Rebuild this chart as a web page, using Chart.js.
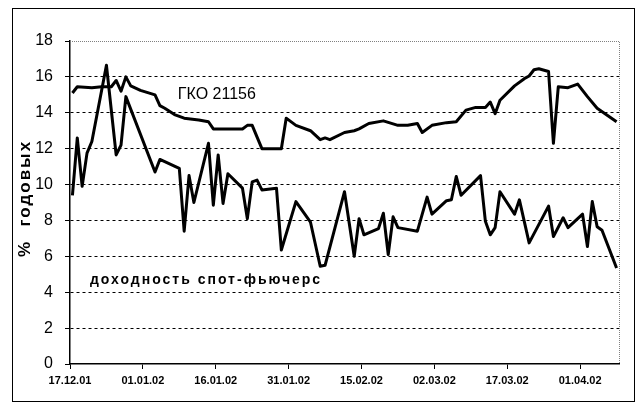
<!DOCTYPE html>
<html>
<head>
<meta charset="utf-8">
<script src="https://cdn.jsdelivr.net/npm/chart.js@4"></script>
<style>
	html, body { margin: 0; padding: 0; background: #fff; }
	#chart { display: block; }
</style>
</head>
<body>
<canvas id="chart" width="636" height="408"></canvas>
<script>
( function () {
	'use strict';

	// ── Data (days counted from 17.12.01) ────────────────────────────────

	const X_TICK_DAYS = [ 0, 15, 30, 45, 60, 75, 90, 105 ];
	const X_TICK_LABELS = [ '17.12.01', '01.01.02', '16.01.02', '31.01.02', '15.02.02', '02.03.02', '17.03.02', '01.04.02' ];

	const GKO_DAYS = [
		0, 1, 4, 6, 8, 9, 10, 11, 12, 14, 17, 18, 19, 21, 23, 26, 28, 29, 35, 36, 37, 39,
		43, 44, 46, 49, 51, 52, 53, 56, 58, 59, 61, 64, 67, 69, 71, 72, 74, 77, 79, 81,
		83, 85, 86, 87, 88, 91, 93, 94, 95, 96, 98, 99, 100, 102, 104, 106, 108, 112,
	];
	const GKO_VALUES = [
		15.1, 15.45, 15.4, 15.45, 15.45, 15.8, 15.2, 16.0, 15.5, 15.25, 15.0, 14.4, 14.25, 13.9, 13.7, 13.6, 13.5, 13.1, 13.1, 13.3, 13.3, 12.0,
		12.0, 13.7, 13.3, 13.0, 12.5, 12.6, 12.5, 12.9, 13.0, 13.1, 13.4, 13.55, 13.3, 13.3, 13.4, 12.9, 13.3, 13.45, 13.5, 14.15,
		14.3, 14.3, 14.6, 13.95, 14.7, 15.5, 15.9, 16.05, 16.4, 16.45, 16.3, 12.3, 15.45, 15.4, 15.6, 14.9, 14.25, 13.5,
	];

	const SPOT_DAYS = [
		0, 1, 2, 3, 4, 7, 9, 10, 11, 17, 18, 22, 23, 24, 25, 28, 29, 30, 31, 32, 35, 36, 37, 38,
		39, 42, 43, 46, 49, 51, 52, 56, 58, 59, 60, 63, 64, 65, 66, 67, 71, 73, 74, 77, 78,
		79, 80, 84, 85, 86, 87, 88, 91, 92, 94, 98, 99, 101, 102, 105, 106, 107, 108, 109, 112,
	];
	const SPOT_VALUES = [
		9.4, 12.6, 9.9, 11.75, 12.4, 16.65, 11.65, 12.2, 14.9, 10.7, 11.4, 10.9, 7.4, 10.5, 9.0, 12.3, 8.85, 11.65, 8.95, 10.6, 9.8, 8.1, 10.15, 10.25,
		9.7, 9.8, 6.35, 9.05, 7.9, 5.45, 5.5, 9.6, 6.0, 8.1, 7.2, 7.55, 8.4, 6.1, 8.2, 7.6, 7.4, 9.3, 8.35, 9.1, 9.15,
		10.45, 9.4, 10.5, 7.95, 7.2, 7.6, 9.6, 8.35, 9.15, 6.75, 8.8, 7.1, 8.15, 7.6, 8.35, 6.55, 9.05, 7.65, 7.45, 5.35,
	];

	// In-plot labels: text, anchor day, anchor value
	const LABEL_TEXTS = [ 'ГКО 21156', 'доходность спот-фьючерс' ];
	const LABEL_DAYS = [ 22.2, 4.1 ];
	const LABEL_VALUES = [ 15.0, 4.7 ];

	const Y_TITLE = '%  годовых';

	// ── Helpers ──────────────────────────────────────────────────────────

	const FONT = '"Liberation Sans", Arial, sans-serif';

	// Excel date axis puts a day's point in the middle of its slot
	function toPoints( days, values ) {
		return days.map( function ( d, i ) {
			return { x: d + 0.5, y: values[ i ] };
		} );
	}

	// ── Plugins ──────────────────────────────────────────────────────────

	const framePlugin = {
		id: 'frame',
		afterDraw: function ( chart ) {
			var ctx = chart.ctx;
			var a = chart.chartArea;
			ctx.save();
			// grey dotted top / right edges of the plot area
			ctx.strokeStyle = '#808080';
			ctx.lineWidth = 1;
			ctx.setLineDash( [ 1, 1 ] );
			ctx.beginPath();
			ctx.moveTo( a.left, a.top + 0.5 );
			ctx.lineTo( a.right + 0.5, a.top + 0.5 );
			ctx.lineTo( a.right + 0.5, a.bottom );
			ctx.stroke();
			// outer chart border
			ctx.setLineDash( [] );
			ctx.strokeStyle = '#000';
			ctx.strokeRect( 12.5, 8.5, 622, 393 );
			ctx.restore();
		},
	};

	const labelsPlugin = {
		id: 'inlineLabels',
		afterDatasetsDraw: function ( chart ) {
			var ctx = chart.ctx;
			var xs = chart.scales.x;
			var ys = chart.scales.y;
			var a = chart.chartArea;
			ctx.save();
			ctx.fillStyle = '#000';
			ctx.textBaseline = 'middle';
			ctx.textAlign = 'left';
			LABEL_TEXTS.forEach( function ( text, i ) {
				if ( i === 0 ) {
					ctx.font = '16px ' + FONT;
					ctx.letterSpacing = '0px';
				} else {
					ctx.font = 'bold 14px ' + FONT;
					ctx.letterSpacing = '2px';
				}
				ctx.fillText( text, xs.getPixelForValue( LABEL_DAYS[ i ] ), ys.getPixelForValue( LABEL_VALUES[ i ] ) );
			} );

			// rotated y-axis title
			ctx.translate( 25, ( a.top + a.bottom ) / 2 - 4 );
			ctx.rotate( -Math.PI / 2 );
			ctx.textAlign = 'center';
			ctx.font = 'bold 17px ' + FONT;
			ctx.letterSpacing = '2px';
			ctx.fillText( Y_TITLE, 0, 0 );
			ctx.restore();
		},
	};

	// ── Chart ────────────────────────────────────────────────────────────

	new Chart( document.getElementById( 'chart' ), {
		type: 'line',
		data: {
			datasets: [ {
				label: 'ГКО 21156',
				data: toPoints( GKO_DAYS, GKO_VALUES ),
				borderColor: '#000',
				borderWidth: 3,
				pointRadius: 0,
				tension: 0,
				borderJoinStyle: 'round',
			}, {
				label: 'доходность спот-фьючерс',
				data: toPoints( SPOT_DAYS, SPOT_VALUES ),
				borderColor: '#000',
				borderWidth: 3,
				pointRadius: 0,
				tension: 0,
				borderJoinStyle: 'round',
			} ],
		},
		options: {
			responsive: false,
			animation: false,
			events: [],
			layout: { padding: { left: 0, top: 41, right: 17, bottom: 0 } },
			plugins: {
				legend: { display: false },
				tooltip: { enabled: false },
			},
			scales: {
				x: {
					type: 'linear',
					min: 0,
					max: 113,
					afterBuildTicks: function ( scale ) {
						scale.ticks = X_TICK_DAYS.map( function ( v ) { return { value: v }; } );
					},
					afterFit: function ( scale ) { scale.height = 44; },
					ticks: {
						autoSkip: false,
						maxRotation: 0,
						padding: 5,
						color: '#000',
						font: { family: FONT, size: 11, weight: 'bold' },
						callback: function ( v ) {
							var i = X_TICK_DAYS.indexOf( v );
							return i < 0 ? '' : X_TICK_LABELS[ i ];
						},
					},
					grid: {
						drawOnChartArea: false,
						drawTicks: true,
						tickLength: 5,
						color: '#000',
					},
					border: { color: '#000', width: 1.5 },
				},
				y: {
					min: 0,
					max: 18,
					afterFit: function ( scale ) { scale.width = 70; },
					ticks: {
						stepSize: 2,
						padding: 12,
						color: '#000',
						font: { family: FONT, size: 16 },
					},
					grid: {
						tickLength: 5,
						tickColor: '#000',
						color: function ( c ) {
							if ( c.tick && ( c.tick.value === 0 || c.tick.value === 18 ) ) {
								return 'rgba(0,0,0,0)';
							}
							return '#000';
						},
					},
					border: { color: '#000', width: 1.5, dash: [ 3, 3 ] },
				},
			},
		},
		plugins: [ framePlugin, labelsPlugin ],
	} );
} )();
</script>
</body>
</html>
